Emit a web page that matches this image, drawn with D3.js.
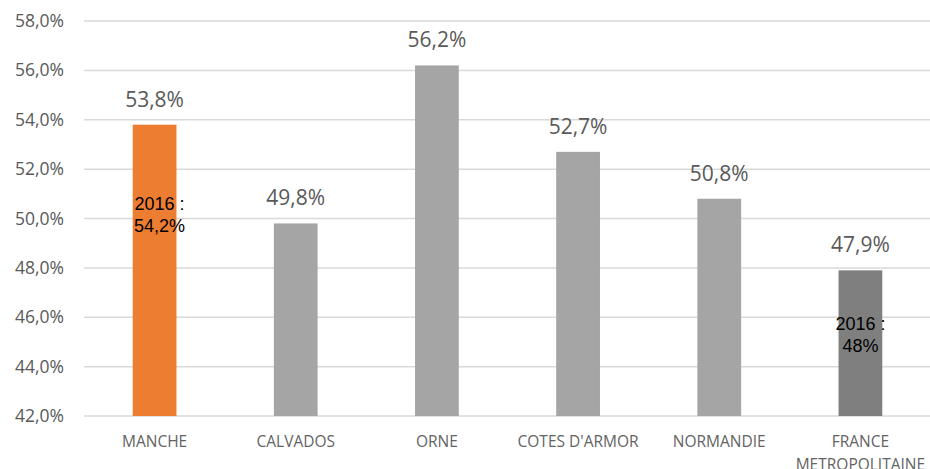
<!DOCTYPE html>
<html>
<head>
<meta charset="utf-8">
<script src="https://cdn.jsdelivr.net/npm/d3@7"></script>
<style>
  body { margin: 0; background: #fff; }
  svg { display: block; }
</style>
</head>
<body>
<svg id="chart" width="930" height="469"></svg>
<script>
// categories and values (taux, en %)
var categories = ["MANCHE", "CALVADOS", "ORNE", "COTES D'ARMOR", "NORMANDIE", "FRANCE METROPOLITAINE"];
var values = [53.8, 49.8, 56.2, 52.7, 50.8, 47.9];
var barColors = ["#ED7D31", "#A5A5A5", "#A5A5A5", "#A5A5A5", "#A5A5A5", "#7F7F7F"];
var yTicks = [42, 44, 46, 48, 50, 52, 54, 56, 58];
// notes 2016 placed on two bars
var notes = [
  { cat: "MANCHE", lines: ["2016 :", "54,2%"], at: 50.35, dx: 5 },
  { cat: "FRANCE METROPOLITAINE", lines: ["2016 :", "48%"], at: 45.5, dx: 0 }
];

var fmt = function(v) { return d3.format(".1f")(v).replace(".", ",") + "%"; };

var svg = d3.select("#chart");
var margin = { top: 21, left: 84, right: 0, bottom: 53 };
var width = 930 - margin.left - margin.right;
var height = 469 - margin.top - margin.bottom;

var g = svg.append("g").attr("transform", "translate(" + margin.left + "," + margin.top + ")");

var x = d3.scaleBand().domain(categories).range([0, 847]).paddingInner(0.69).paddingOuter(0.345);
var y = d3.scaleLinear().domain([42, 58]).range([height, 0]);

// gridlines
g.selectAll("line.grid").data(yTicks).enter().append("line")
  .attr("class", "grid")
  .attr("x1", 0).attr("x2", width)
  .attr("y1", function(d) { return y(d); }).attr("y2", function(d) { return y(d); })
  .attr("stroke", "#d9d9d9").attr("stroke-width", 1.5);

// y axis labels
var yAxis = d3.axisLeft(y).tickValues(yTicks).tickSize(0).tickPadding(20)
  .tickFormat(function(d) { return fmt(d); });
var ya = g.append("g").call(yAxis);
ya.select(".domain").remove();
ya.selectAll("text").attr("fill", "#595959").style("font-family", "'Open Sans', sans-serif").style("font-size", "17.5px");

// bars
g.selectAll("rect.bar").data(values).enter().append("rect")
  .attr("class", "bar")
  .attr("x", function(d, i) { return x(categories[i]); })
  .attr("width", x.bandwidth())
  .attr("y", function(d) { return y(d); })
  .attr("height", function(d) { return height - y(d); })
  .attr("fill", function(d, i) { return barColors[i]; });

// value labels
g.selectAll("text.val").data(values).enter().append("text")
  .attr("class", "val")
  .attr("x", function(d, i) { return x(categories[i]) + x.bandwidth() / 2; })
  .attr("y", function(d) { return y(d) - 18; })
  .attr("text-anchor", "middle")
  .attr("fill", "#595959")
  .style("font-family", "'Open Sans', sans-serif")
  .style("font-size", "21px")
  .text(function(d) { return fmt(d); });

// category labels
var cat = g.selectAll("text.cat").data(categories).enter().append("text")
  .attr("class", "cat")
  .attr("x", function(d) { return x(d) + x.bandwidth() / 2; })
  .attr("y", height + 31)
  .attr("text-anchor", "middle")
  .attr("fill", "#636363")
  .style("font-family", "'Open Sans', sans-serif")
  .style("font-size", "15.5px");
cat.each(function(d) {
  var words = d === "FRANCE METROPOLITAINE" ? ["FRANCE", "METROPOLITAINE"] : [d];
  var t = d3.select(this);
  words.forEach(function(w, k) {
    t.append("tspan").attr("x", x(d) + x.bandwidth() / 2).attr("dy", k === 0 ? 0 : 23).text(w);
  });
});

// 2016 notes
notes.forEach(function(n) {
  var cx = x(n.cat) + x.bandwidth() / 2 + n.dx;
  var t = g.append("text")
    .attr("fill", "#000")
    .style("font-family", "'Liberation Sans', Arial, sans-serif")
    .style("font-size", "18px")
    .attr("text-anchor", "middle");
  n.lines.forEach(function(l, k) {
    t.append("tspan").attr("x", cx).attr("y", y(n.at) + k * 22).text(l);
  });
});
</script>
</body>
</html>
